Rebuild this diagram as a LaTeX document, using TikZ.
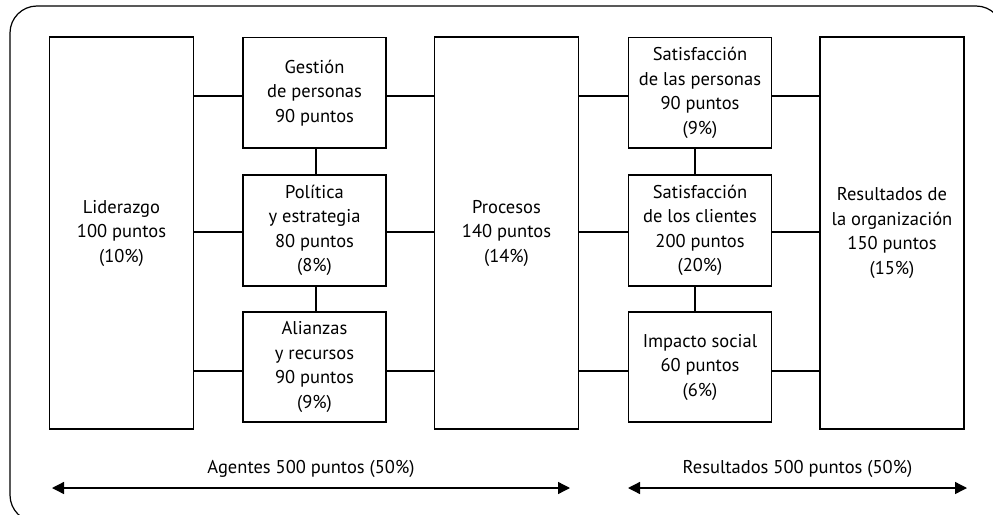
\documentclass[tikz,border=0pt]{standalone}
\usepackage{fontspec}
\setmainfont{PT Sans}
\usetikzlibrary{arrows.meta}
\begin{document}
\begin{tikzpicture}[x=1pt,y=-1pt,
  box/.style={draw=black,line width=1.6pt,align=center,inner sep=0pt,font=\fontsize{18.5}{24.5}\selectfont,text=black},
  bigbox/.style={box,minimum width=144pt,minimum height=392pt},
  smallbox/.style={box,minimum width=143pt,minimum height=110.5pt},
  conn/.style={draw=black,line width=1.3pt},
  span/.style={line width=1.3pt,{Triangle[length=12pt,width=12pt]}-{Triangle[length=12pt,width=12pt]}},
  lbl/.style={font=\fontsize{18.5}{24.5}\selectfont,inner sep=0pt}
]
\useasboundingbox (0,0) rectangle (993,514);
\begin{scope}
\clip (0,0) rectangle (993,514);
\draw[line width=1.2pt,rounded corners=27pt] (10,6) rectangle (1003,522);
\end{scope}

\node[bigbox] (lid) at (121.5,233) {Liderazgo\\100 puntos\\(10\%)};
\node[smallbox] (gest) at (314.5,92.75) {Gestión\\de personas\\90 puntos};
\node[smallbox] (pol) at (314.5,230.5) {Política\\y estrategia\\80 puntos\\(8\%)};
\node[smallbox] (ali) at (314.5,367) {Alianzas\\y recursos\\90 puntos\\(9\%)};
\node[bigbox] (proc) at (506.5,233) {Procesos\\140 puntos\\(14\%)};
\node[smallbox] (sp) at (700,92.75) {Satisfacción\\de las personas\\90 puntos\\(9\%)};
\node[smallbox] (sc) at (700,230.5) {Satisfacción\\de los clientes\\200 puntos\\(20\%)};
\node[smallbox] (imp) at (700,367) {Impacto social\\60 puntos\\(6\%)};
\node[bigbox] (res) at (892,233) {Resultados de\\la organización\\150 puntos\\(15\%)};

\coordinate (h1) at (0,96);
\coordinate (h2) at (0,232);
\coordinate (h3) at (0,371);

\draw[conn] (lid.east |- h1) -- (gest.west |- h1);
\draw[conn] (gest.east |- h1) -- (proc.west |- h1);
\draw[conn] (proc.east |- h1) -- (sp.west |- h1);
\draw[conn] (sp.east |- h1) -- (res.west |- h1);
\draw[conn] (lid.east |- h2) -- (pol.west |- h2);
\draw[conn] (pol.east |- h2) -- (proc.west |- h2);
\draw[conn] (proc.east |- h2) -- (sc.west |- h2);
\draw[conn] (sc.east |- h2) -- (res.west |- h2);
\draw[conn] (lid.east |- h3) -- (ali.west |- h3);
\draw[conn] (ali.east |- h3) -- (proc.west |- h3);
\draw[conn] (proc.east |- h3) -- (imp.west |- h3);
\draw[conn] (imp.east |- h3) -- (res.west |- h3);

\draw[conn] ([xshift=1.5pt]gest.south) -- ([xshift=1.5pt]pol.north);
\draw[conn] ([xshift=1.5pt]pol.south) -- ([xshift=1.5pt]ali.north);
\draw[conn] ([xshift=-5pt]sp.south) -- ([xshift=-5pt]sc.north);
\draw[conn] ([xshift=-5pt]sc.south) -- ([xshift=-5pt]imp.north);

\coordinate (a1) at (52,488);
\coordinate (a2) at (570,488);
\coordinate (b1) at (628,488);
\coordinate (b2) at (967,488);
\draw[span] (a1) -- (a2);
\draw[span] (b1) -- (b2);
\node[lbl] (agl) at (311,469) {Agentes 500 puntos (50\%)};
\node[lbl] (rel) at (797.5,469) {Resultados 500 puntos (50\%)};
\end{tikzpicture}
\end{document}
